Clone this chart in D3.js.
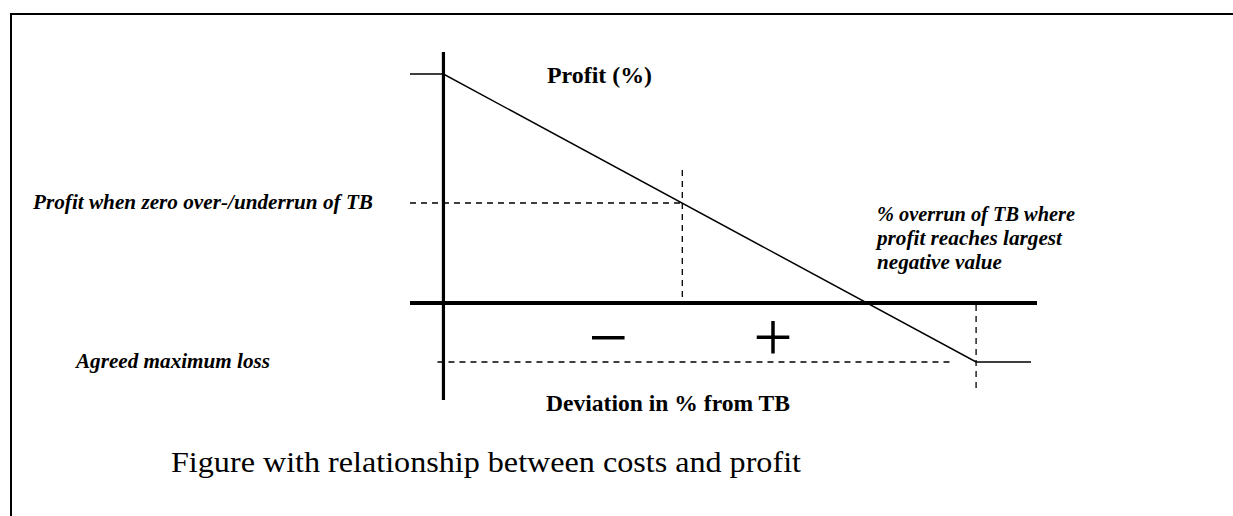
<!DOCTYPE html>
<html>
<head>
<meta charset="utf-8">
<script src="https://cdn.jsdelivr.net/npm/d3@7"></script>
<style>
  html, body { margin: 0; padding: 0; background: #fff; }
  svg { display: block; }
  text { font-family: "Liberation Serif", "Times New Roman", Times, serif; }
</style>
</head>
<body>
<script>
// ---- data (conceptual units: deviation in % from TB, profit in %) ----
const deviation = [-22.8, -20, 24.6, 29.2];      // profit curve x-values
const profit    = [22.9, 22.9, -5.9, -5.9];      // profit curve y-values
const xAxisExtent = [-22.8, 29.7];               // horizontal axis span
const yAxisExtent = [-9.7, 25.1];                // vertical axis span
const yAxisAt = -20;                             // deviation where profit axis stands
const zeroDevProfit = 10;                        // profit at zero over-/underrun
const maxLoss = -5.9;                            // agreed maximum loss
const maxLossDeviation = 24.6;                   // overrun where max loss reached
const signLabels = ["\u2212", "+"];
const signPos = [-6.2, 7.6];
const signProfit = -3.4;
const labels = {
  yTitle: "Profit (%)",
  xTitle: "Deviation in % from TB",
  zeroDev: "Profit when zero over-/underrun of TB",
  maxLoss: "Agreed maximum loss",
  overrun: ["% overrun of TB where", "profit reaches largest", "negative value"],
  caption: "Figure with relationship between costs and profit"
};

const W = 1233, H = 516;
const svg = d3.select("body").append("svg").attr("width", W).attr("height", H);

// frame (extends beyond right and bottom of view)
svg.append("rect").attr("x", 11).attr("y", 14).attr("width", 1240).attr("height", 520)
  .attr("fill", "none").attr("stroke", "#000").attr("stroke-width", 2);

const x = d3.scaleLinear().domain(xAxisExtent).range([410, 1037]);
const y = d3.scaleLinear().domain(yAxisExtent).range([400, 52]);

const g = svg.append("g");
const dash = "6,5";

function seg(x1, y1, x2, y2, w, da) {
  const l = g.append("line").attr("x1", x(x1)).attr("y1", y(y1)).attr("x2", x(x2)).attr("y2", y(y2))
    .attr("stroke", "#000").attr("stroke-width", w);
  if (da) l.attr("stroke-dasharray", da);
  return l;
}

// dashed guide lines
seg(xAxisExtent[0], zeroDevProfit, 0, zeroDevProfit, 1.3, dash);
seg(0, 13.3, 0, 0, 1.3, dash);
seg(-20.5, maxLoss, 22.4, maxLoss, 1.3, dash);
seg(maxLossDeviation, -0.2, maxLossDeviation, -8.9, 1.3, dash);

// axes
seg(xAxisExtent[0], 0, xAxisExtent[1], 0, 4);
seg(yAxisAt, yAxisExtent[0], yAxisAt, yAxisExtent[1], 3.2);

// profit curve
const line = d3.line().x((d, i) => x(deviation[i])).y((d, i) => y(profit[i]));
g.append("path").datum(deviation).attr("d", line)
  .attr("fill", "none").attr("stroke", "#000").attr("stroke-width", 1.5);

// signs
g.selectAll("text.sign").data(signLabels).join("text").attr("class", "sign")
  .attr("x", (d, i) => x(signPos[i])).attr("y", y(signProfit))
  .attr("text-anchor", "middle").attr("dominant-baseline", "central")
  .attr("font-size", 70).text(d => d);

function txt(s, tx, ty, size, weight, style, len) {
  const t = svg.append("text").attr("x", tx).attr("y", ty)
    .attr("font-size", size)
    .attr("font-weight", weight).attr("font-style", style).text(s);
  if (len) t.attr("textLength", len).attr("lengthAdjust", "spacingAndGlyphs");
  return t;
}

txt(labels.yTitle, 547, 83, 23, "bold", "normal", 105);
txt(labels.xTitle, 546, 411, 23, "bold", "normal", 244);
txt(labels.zeroDev, 33, 209, 20.5, "bold", "italic", 340);
txt(labels.maxLoss, 76, 368, 20.5, "bold", "italic", 194);
const overrunLen = [198, 185, 125];
labels.overrun.forEach((s, i) => txt(s, 877, 221 + i * 24, 20.5, "bold", "italic", overrunLen[i]));
txt(labels.caption, 171, 472, 30, "normal", "normal", 630);
</script>
</body>
</html>
